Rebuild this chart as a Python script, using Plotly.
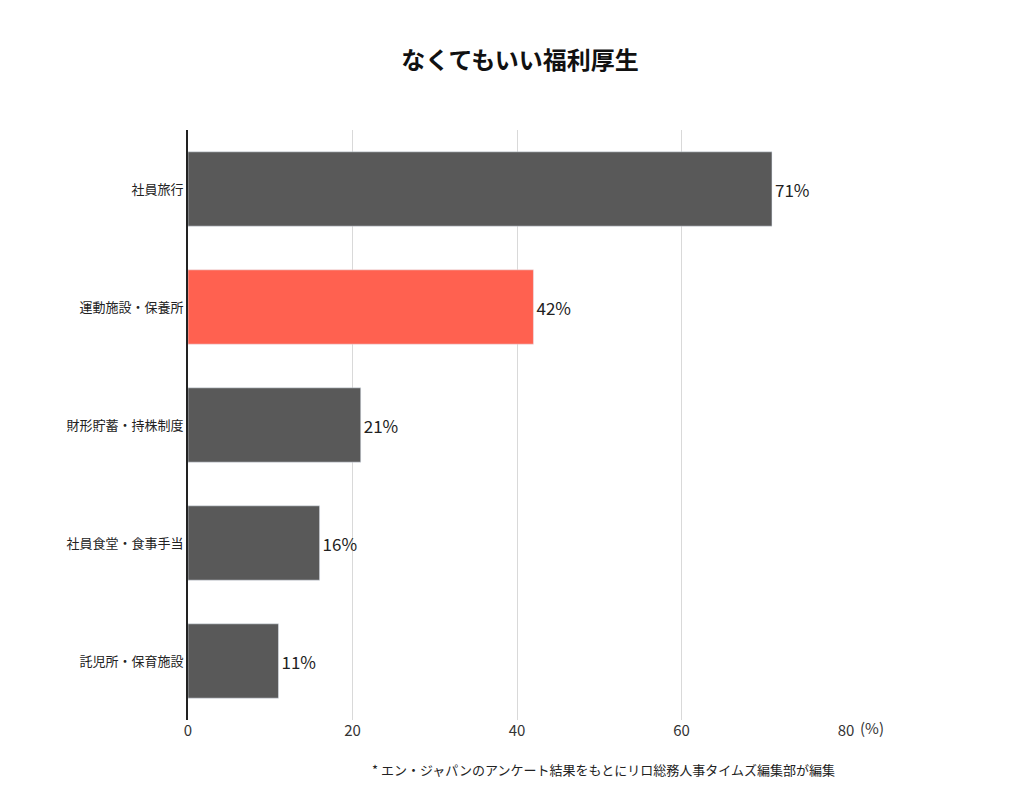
import plotly.graph_objects as go

categories = ["社員旅行", "運動施設・保養所", "財形貯蓄・持株制度", "社員食堂・食事手当", "託児所・保育施設"]
values = [71, 42, 21, 16, 11]
colors = ["#595959", "#FF6150", "#595959", "#595959", "#595959"]

fig = go.Figure(go.Bar(
    y=categories, x=values, orientation="h", marker_color=colors,
    text=[f"{v}%" for v in values], textposition="outside",
    textfont=dict(size=17, color="#222"), cliponaxis=False,
))
fig.update_layout(
    width=1024, height=799, plot_bgcolor="white", paper_bgcolor="white",
    font=dict(family="Noto Sans CJK JP", color="#333"),
    margin=dict(l=180, r=186, t=122, b=87),
    bargap=0.37, showlegend=False,
    title=dict(text="<b>なくてもいい福利厚生</b>", x=0.5, xanchor="center", y=0.945,
               font=dict(size=24, color="#111")),
    xaxis=dict(range=[0, 80], dtick=20, showgrid=True, gridcolor="#d9d9d9",
               tickfont=dict(size=15), zeroline=False, ticks=""),
    yaxis=dict(autorange="reversed", showline=True, linecolor="#222", linewidth=2,
               tickfont=dict(size=13, color="#222"), ticks="", ticklen=0),
    annotations=[
        dict(text="(%)", x=80, y=0, xref="x", yref="paper", xshift=12, yshift=-20,
             showarrow=False, xanchor="left", font=dict(size=15)),
        dict(text="* エン・ジャパンのアンケート結果をもとにリロ総務人事タイムズ編集部が編集",
             x=595, y=26, xref="paper", yref="paper", showarrow=False,
             font=dict(size=13, color="#222")),
    ],
)
fig.layout.annotations[1].update(xref="paper", yref="paper", x=(595-180)/658, y=-(773-712)/590)
fig.write_html("out.html")
